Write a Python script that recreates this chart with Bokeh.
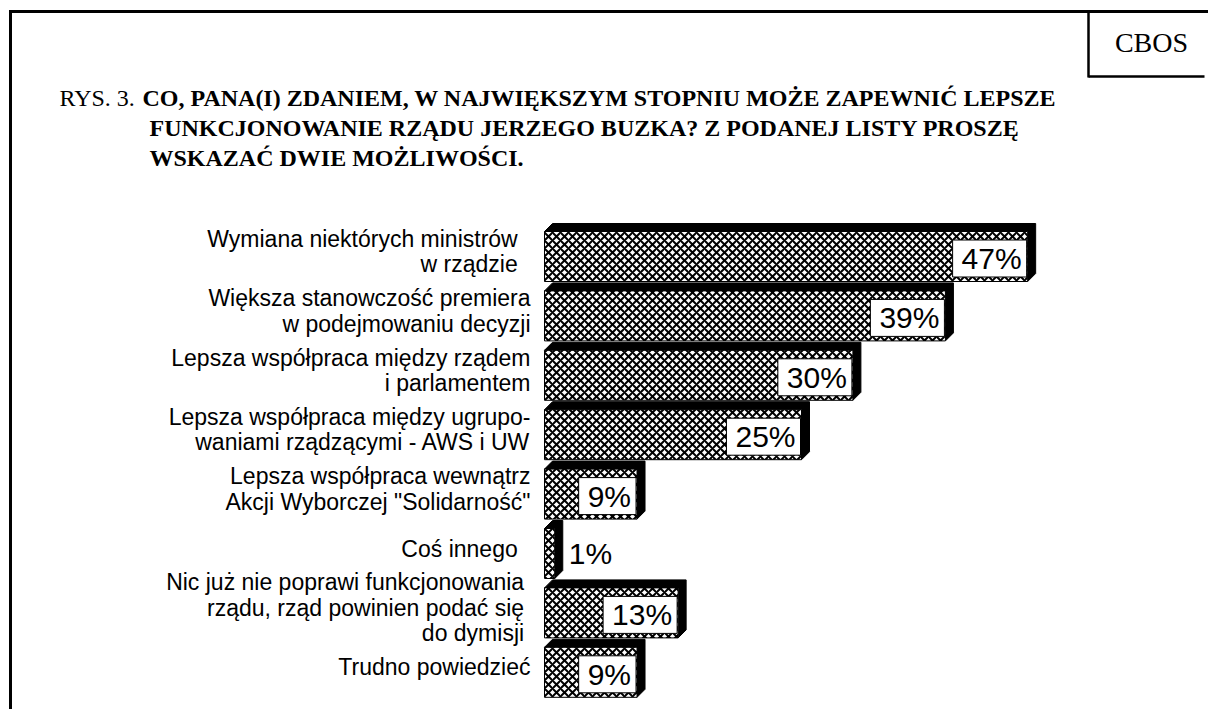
from bokeh.plotting import figure
from bokeh.models import Range1d, ColumnDataSource
from bokeh.core.properties import value
from bokeh.embed import file_html
from bokeh.resources import INLINE

# ---------------- data ----------------
categories = [
    "Wymiana niektórych ministrów  \nw rządzie  ",
    "Większa stanowczość premiera\nw podejmowaniu decyzji",
    "Lepsza współpraca między rządem\ni parlamentem",
    "Lepsza współpraca między ugrupo-\nwaniami rządzącymi - AWS i UW",
    "Lepsza współpraca wewnątrz\nAkcji Wyborczej \"Solidarność\"",
    "Coś innego  ",
    "Nic już nie poprawi funkcjonowania \nrządu, rząd powinien podać się \ndo dymisji ",
    "Trudno powiedzieć",
]
values = [47, 39, 30, 25, 9, 1, 13, 9]
value_labels = ["47%", "39%", "30%", "25%", "9%", "1%", "13%", "9%"]

title_prefix = "RYS. 3."
title_lines = [
    "CO, PANA(I) ZDANIEM, W NAJWIĘKSZYM STOPNIU MOŻE ZAPEWNIĆ LEPSZE",
    "FUNKCJONOWANIE RZĄDU JERZEGO BUZKA? Z PODANEJ LISTY PROSZĘ",
    "WSKAZAĆ DWIE MOŻLIWOŚCI.",
]
brand = "CBOS"

# ---------------- layout ----------------
W, H = 1208, 709
X0PX, PXU = 544.0, 10.28      # pixel of 0 %, pixels per 1 %
Y0PX, PITCH = 256.0, 59.4     # pixel of first bar centre, pixels per bar
BAR_H_PX = 50.0
DEPTH = 8.0


def X(px):
    return (px - X0PX) / PXU


def Y(py):
    return (py - Y0PX) / PITCH


p = figure(width=W, height=H, output_backend="svg", toolbar_location=None,
           x_range=Range1d(X(0), X(W)), y_range=Range1d(Y(H), Y(0)),
           x_axis_location=None, y_axis_location=None, min_border=0)
p.grid.visible = False
p.outline_line_color = None
p.background_fill_color = "white"
p.border_fill_color = "white"

# frame (left and top edges) and brand box (left and bottom edges)
p.segment(x0=[X(10), X(8.5)], y0=[Y(9.5), Y(11)], x1=[X(10), X(W)], y1=[Y(H), Y(11)],
          line_color="black", line_width=3)
p.segment(x0=[X(1088), X(1088)], y0=[Y(11), Y(76)], x1=[X(1088), X(1204)], y1=[Y(77), Y(76)],
          line_color="black", line_width=2.5)
p.text(x=[X(1151)], y=[Y(42)], text=[brand], text_font=value("Liberation Serif"),
       text_font_size="28px", text_align="center", text_baseline="middle", text_color="black")

# title
p.text(x=[X(59)], y=[Y(97)], text=[title_prefix], text_font=value("Liberation Serif"),
       text_font_size="24px", text_align="left", text_baseline="alphabetic", text_color="black")
p.text(x=[X(142), X(149), X(149)], y=[Y(97), Y(127), Y(157)], text=title_lines,
       text_font=value("Liberation Serif"), text_font_style="bold",
       text_font_size="24px", text_align="left", text_baseline="alphabetic", text_color="black")

# bars
n = len(values)
idx = list(range(n))
hh = BAR_H_PX / PITCH / 2
dxu = DEPTH / PXU
dyu = DEPTH / PITCH
xs, ys = [], []
for i, v in zip(idx, values):
    xs.append([0, dxu, v + dxu, v + dxu, v, v])
    ys.append([i - hh, i - hh - dyu, i - hh - dyu, i + hh - dyu, i + hh, i - hh])
p.patches(xs=xs, ys=ys, fill_color="black", line_color="black", line_width=1)

src = ColumnDataSource(dict(y=idx, v=values, cat=categories, lab=value_labels))
p.hbar(y="y", left=0, right="v", height=2 * hh, source=src,
       fill_color="white", line_color="black", line_width=1,
       hatch_pattern="diagonal_cross", hatch_color="black", hatch_scale=8, hatch_weight=2)

# category labels
p.text(x=X(530), y="y", text="cat", source=src, text_font=value("Liberation Sans"),
       text_font_size="23px", text_align="right", text_baseline="middle",
       text_line_height=0.98, y_offset=-5, text_color="black")

# value labels
inside = [i for i, v in enumerate(values) if v >= 5]
outside = [i for i, v in enumerate(values) if v < 5]
src_in = ColumnDataSource(dict(y=[idx[i] for i in inside], v=[values[i] for i in inside],
                               lab=[value_labels[i] for i in inside]))
src_out = ColumnDataSource(dict(y=[idx[i] for i in outside], v=[values[i] for i in outside],
                                lab=[value_labels[i] for i in outside]))
p.text(x="v", y="y", text="lab", source=src_in, text_font=value("Liberation Sans"),
       text_font_size="30px", text_align="right", text_baseline="middle", x_offset=-1,
       y_offset=2, text_color="black", background_fill_color="white",
       border_line_color="black", border_line_width=1,
       padding=dict(left=9, right=5, top=2, bottom=2))
p.text(x="v", y="y", text="lab", source=src_out, text_font=value("Liberation Sans"),
       text_font_size="30px", text_align="left", text_baseline="middle", x_offset=14,
       text_color="black")

open("out.html", "w").write(file_html(p, INLINE))
